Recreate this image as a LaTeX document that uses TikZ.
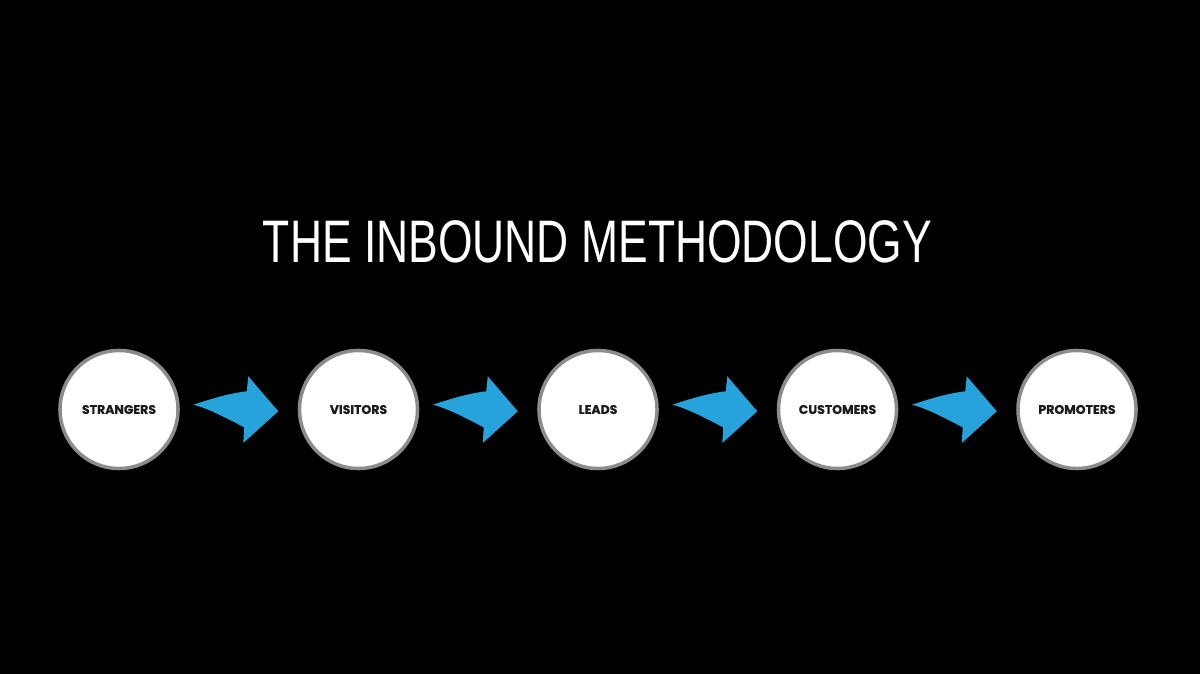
\documentclass[tikz,border=0pt]{standalone}
\usepackage{fontspec}
\setmainfont{Poppins}[BoldFeatures={FakeBold=0.6}]
\newfontfamily\titlefont[FakeStretch=0.74]{Liberation Sans}
\usetikzlibrary{calc}

\definecolor{stepblue}{HTML}{27A3DB}
\definecolor{ringgrey}{HTML}{8C8C8C}
\definecolor{labelink}{HTML}{1C1C1C}

\tikzset{
    stage/.style={circle, draw=ringgrey, fill=white, line width=2.5pt,
        minimum size=2.95cm, inner sep=0pt,
        font=\fontsize{8.9}{10}\selectfont\bfseries, text=labelink},
    pics/bluearrow/.style={code={
        \fill[stepblue] (-45.5,-4.8)
            .. controls (-32,-9) and (-12,-16) .. (8,-18.2)
            -- (9.5,-33.2) -- (39.5,1.8) -- (4.5,33.5) -- (5.5,17.8)
            .. controls (-12,9) and (-30,-1) .. cycle;
    }}
}

\begin{document}
\begin{tikzpicture}[x=0.025cm, y=-0.025cm]
    \fill[black] (0,0) rectangle (1200,674);
    \useasboundingbox (0,0) rectangle (1200,674);

    \node[font=\titlefont\fontsize{42.7}{44}\selectfont, text=white] (title) at (597.5,241.5) {THE INBOUND METHODOLOGY};

    % stages
    \foreach \name/\txt [count=\i] in {strangers/STRANGERS, visitors/VISITORS, leads/LEADS, customers/CUSTOMERS, promoters/PROMOTERS}
        \node[stage] (\name) at ({119 + 239.5*(\i-1)}, 409.5) {\txt};

    % arrows between stages
    \foreach \a/\b in {strangers/visitors, visitors/leads, leads/customers, customers/promoters}
        \pic at ($(\a)!0.5!(\b)$) {bluearrow};
\end{tikzpicture}
\end{document}
